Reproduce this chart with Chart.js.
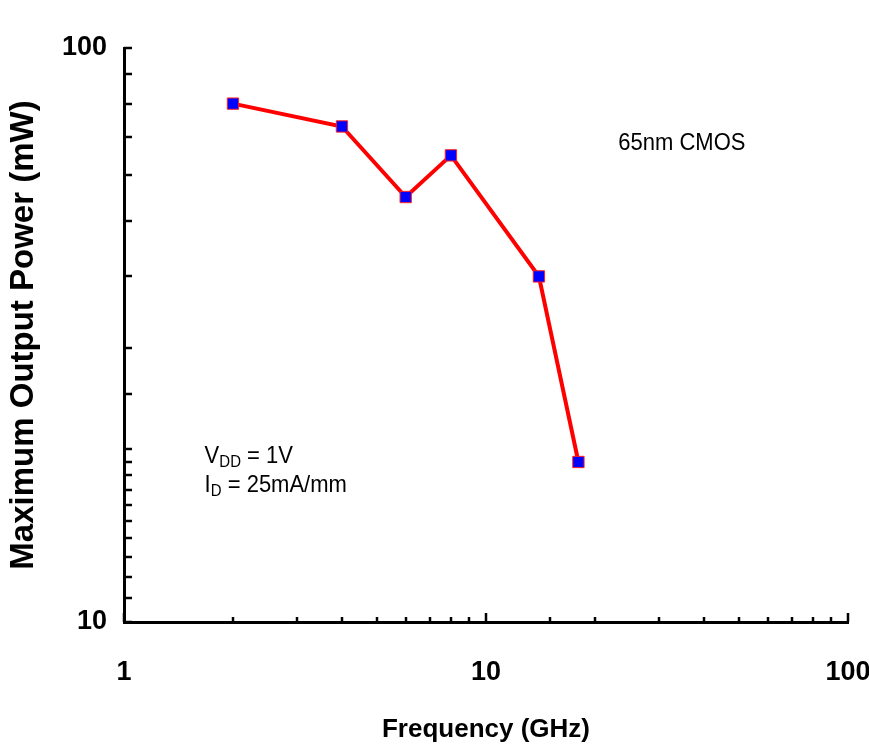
<!DOCTYPE html>
<html><head><meta charset="utf-8">
<script src="https://cdn.jsdelivr.net/npm/chart.js@4"></script>
<style>html,body{margin:0;padding:0;background:#fff;overflow:hidden}</style>
</head><body>
<canvas id="c" width="869" height="750"></canvas>
<script>
// ---- data ----
const frequencyGHz = [2, 4, 6, 8, 14, 18];
const maxOutputPowerMW = [80, 73, 55, 65, 40, 19];
const xTickLabels = [1, 10, 100];
const yTickLabels = [10, 100];
const xTitle = 'Frequency (GHz)';
const yTitle = 'Maximum Output Power (mW)';
const noteProcess = '65nm CMOS';
const noteSupply = ['V', 'DD', ' = 1V'];
const noteCurrent = ['I', 'D', ' = 25mA/mm'];

const FONT = "'Liberation Sans', Arial, sans-serif";
const isPow10 = v => Math.abs(Math.log10(v) - Math.round(Math.log10(v))) < 1e-9;

const axisTicksPlugin = {
  id: 'axisTicks',
  afterDraw(chart) {
    const ctx = chart.ctx, xs = chart.scales.x, ys = chart.scales.y, a = chart.chartArea;
    ctx.save();
    ctx.strokeStyle = '#000';
    ctx.lineWidth = 2.5;
    xs.ticks.forEach(t => {
      const px = Math.round(xs.getPixelForValue(t.value));
      const len = isPow10(t.value) ? 9 : 5;
      ctx.beginPath(); ctx.moveTo(px, a.bottom); ctx.lineTo(px, a.bottom - len); ctx.stroke();
    });
    ys.ticks.forEach(t => {
      const py = Math.round(ys.getPixelForValue(t.value));
      ctx.beginPath(); ctx.moveTo(a.left, py); ctx.lineTo(a.left + 8, py); ctx.stroke();
    });
    ctx.restore();
  }
};

const notesPlugin = {
  id: 'notes',
  afterDraw(chart) {
    const ctx = chart.ctx, xs = chart.scales.x, ys = chart.scales.y;
    ctx.save();
    ctx.fillStyle = '#000';
    ctx.textAlign = 'left';
    ctx.textBaseline = 'alphabetic';
    const draw = (text, x, y, size) => {
      ctx.save();
      ctx.font = size + 'px ' + FONT;
      const w = ctx.measureText(text).width;
      ctx.translate(x, y);
      ctx.scale(1, 1.12);
      ctx.fillText(text, 0, 0);
      ctx.restore();
      return w;
    };
    draw(noteProcess, xs.getPixelForValue(23.2), ys.getPixelForValue(66.5), 22);
    let x = xs.getPixelForValue(1.67), y = ys.getPixelForValue(18.95);
    let w = draw(noteSupply[0], x, y, 22);
    w += draw(noteSupply[1], x + w, y + 4, 15);
    draw(noteSupply[2], x + w, y, 22);
    y = ys.getPixelForValue(16.85);
    w = draw(noteCurrent[0], x, y, 22);
    w += draw(noteCurrent[1], x + w, y + 4, 15);
    draw(noteCurrent[2], x + w, y, 22);
    ctx.restore();
  }
};

new Chart(document.getElementById('c'), {
  type: 'line',
  data: {
    datasets: [{
      data: frequencyGHz.map((f, i) => ({ x: f, y: maxOutputPowerMW[i] })),
      borderColor: '#FF0000',
      borderWidth: 4,
      tension: 0,
      pointStyle: 'rect',
      pointRadius: 8,
      pointBackgroundColor: '#0000FF',
      pointBorderColor: '#FF2020',
      pointBorderWidth: 1,
      clip: false
    }]
  },
  options: {
    responsive: false,
    devicePixelRatio: 1,
    animation: false,
    layout: { padding: { left: 0, top: 48, right: 21, bottom: 0 } },
    plugins: { legend: { display: false }, tooltip: { enabled: false } },
    scales: {
      x: {
        type: 'logarithmic',
        min: 1, max: 100,
        grid: { display: false, drawTicks: false },
        border: { display: true, color: '#000', width: 3 },
        ticks: {
          autoSkip: false, maxRotation: 0, padding: 34, color: '#000',
          font: { family: FONT, size: 27, weight: 'bold' },
          callback: v => xTickLabels.includes(v) ? String(v) : ''
        },
        title: {
          display: true, text: xTitle, color: '#000',
          font: { family: FONT, size: 26, weight: 'bold' },
          padding: { top: 0, bottom: 5 }
        },
        afterFit: s => { s.height = 128; s.paddingLeft = 0; s.paddingRight = 0; }
      },
      y: {
        type: 'logarithmic',
        min: 10, max: 100,
        grid: { display: false, drawTicks: false },
        border: { display: true, color: '#000', width: 3 },
        ticks: {
          autoSkip: false, padding: 17, color: '#000',
          font: { family: FONT, size: 27, weight: 'bold' },
          callback: v => yTickLabels.includes(v) ? String(v) : ''
        },
        title: {
          display: true, text: yTitle, color: '#000',
          font: { family: FONT, size: 33, weight: 'bold' },
          padding: { top: 4, bottom: 0 }
        },
        afterFit: s => { s.width = 124; s.paddingTop = 0; s.paddingBottom = 0; }
      }
    }
  },
  plugins: [axisTicksPlugin, notesPlugin]
});
</script>
</body></html>
